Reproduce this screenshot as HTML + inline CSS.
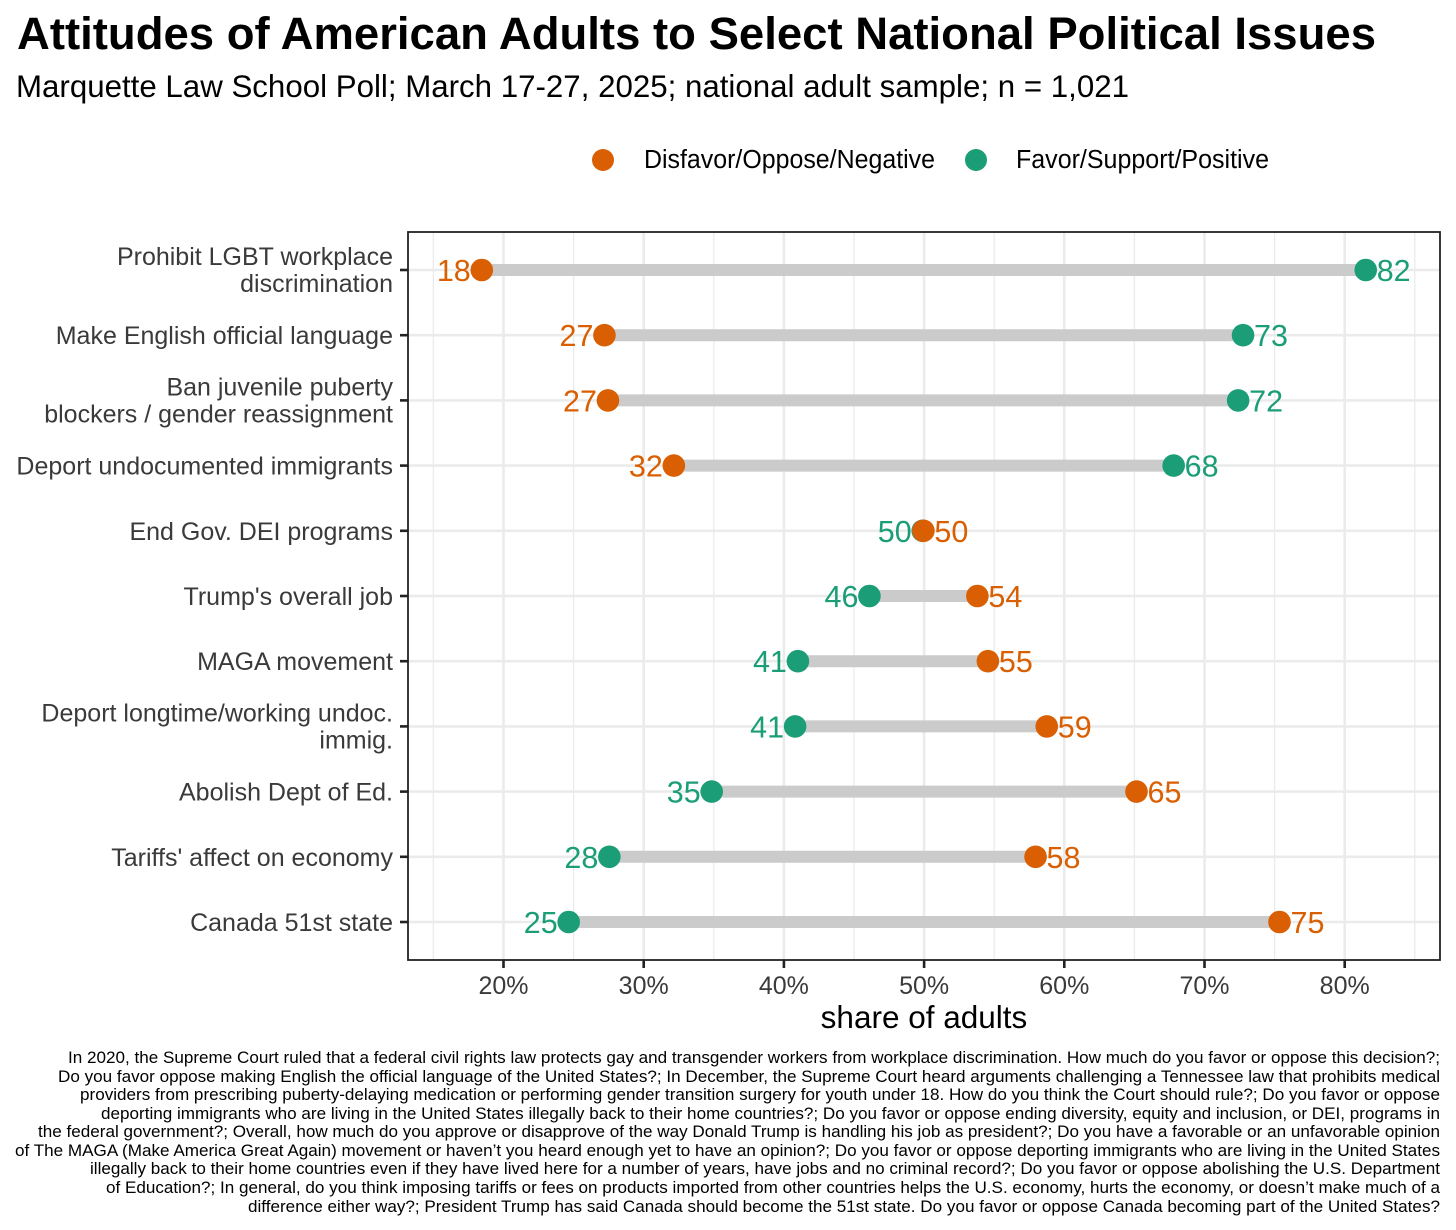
<!DOCTYPE html>
<html lang="en">
<head>
<meta charset="utf-8">
<title>Attitudes of American Adults to Select National Political Issues</title>
<style>
  html, body { margin: 0; padding: 0; background: #fff; }
  body { width: 1456px; height: 1230px; overflow: hidden; }
  svg { display: block; font-family: "Liberation Sans", Helvetica, Arial, sans-serif; }
</style>
</head>
<body>
<svg id="chart" xmlns="http://www.w3.org/2000/svg" width="1456" height="1230" viewBox="0 0 1456 1230">
  <rect x="0" y="0" width="1456" height="1230" fill="#ffffff"/>
  <text x="17" y="49" font-size="45" font-weight="700" fill="#000" textLength="1359" lengthAdjust="spacingAndGlyphs">Attitudes of American Adults to Select National Political Issues</text>
  <text x="16" y="97" font-size="31.5" fill="#000" textLength="1113" lengthAdjust="spacingAndGlyphs">Marquette Law School Poll; March 17-27, 2025; national adult sample; n = 1,021</text>

  <g>
    <circle cx="603" cy="160" r="11" fill="#D95F02"/>
    <text x="644" y="168" font-size="25.5" fill="#000" textLength="291" lengthAdjust="spacingAndGlyphs">Disfavor/Oppose/Negative</text>
    <circle cx="976" cy="160" r="11" fill="#1B9E77"/>
    <text x="1016" y="168" font-size="25.5" fill="#000" textLength="253" lengthAdjust="spacingAndGlyphs">Favor/Support/Positive</text>
  </g>

  <g id="grid"></g>
  <g id="segments"></g>
  <g id="points"></g>
  <g id="labels"></g>
  <rect x="408" y="232" width="1032" height="728" fill="none" stroke="#222222" stroke-width="1.8"/>
  <g id="y-axis"></g>
  <g id="x-axis"></g>
  <text x="924" y="1028" font-size="31.5" text-anchor="middle" fill="#000">share of adults</text>

  <g font-size="16.5" fill="#000" text-anchor="end">
    <text x="1440" y="1063" textLength="1372" lengthAdjust="spacingAndGlyphs">In 2020, the Supreme Court ruled that a federal civil rights law protects gay and transgender workers from workplace discrimination. How much do you favor or oppose this decision?;</text>
    <text x="1440" y="1082" textLength="1382" lengthAdjust="spacingAndGlyphs">Do you favor oppose making English the official language of the United States?; In December, the Supreme Court heard arguments challenging a Tennessee law that prohibits medical</text>
    <text x="1440" y="1100" textLength="1360" lengthAdjust="spacingAndGlyphs">providers from prescribing puberty-delaying medication or performing gender transition surgery for youth under 18. How do you think the Court should rule?; Do you favor or oppose</text>
    <text x="1440" y="1119" textLength="1339" lengthAdjust="spacingAndGlyphs">deporting immigrants who are living in the United States illegally back to their home countries?; Do you favor or oppose ending diversity, equity and inclusion, or DEI, programs in</text>
    <text x="1440" y="1137" textLength="1402" lengthAdjust="spacingAndGlyphs">the federal government?; Overall, how much do you approve or disapprove of the way Donald Trump is handling his job as president?; Do you have a favorable or an unfavorable opinion</text>
    <text x="1440" y="1156" textLength="1425" lengthAdjust="spacingAndGlyphs">of The MAGA (Make America Great Again) movement or haven’t you heard enough yet to have an opinion?; Do you favor or oppose deporting immigrants who are living in the United States</text>
    <text x="1440" y="1174" textLength="1350" lengthAdjust="spacingAndGlyphs">illegally back to their home countries even if they have lived here for a number of years, have jobs and no criminal record?; Do you favor or oppose abolishing the U.S. Department</text>
    <text x="1440" y="1193" textLength="1334" lengthAdjust="spacingAndGlyphs">of Education?; In general, do you think imposing tariffs or fees on products imported from other countries helps the U.S. economy, hurts the economy, or doesn’t make much of a</text>
    <text x="1440" y="1212" textLength="1192" lengthAdjust="spacingAndGlyphs">difference either way?; President Trump has said Canada should become the 51st state. Do you favor or oppose Canada becoming part of the United States?</text>
  </g>
</svg>
<script>
const categories = [
  ["Prohibit LGBT workplace", "discrimination"],
  ["Make English official language"],
  ["Ban juvenile puberty", "blockers / gender reassignment"],
  ["Deport undocumented immigrants"],
  ["End Gov. DEI programs"],
  ["Trump's overall job"],
  ["MAGA movement"],
  ["Deport longtime/working undoc.", "immig."],
  ["Abolish Dept of Ed."],
  ["Tariffs' affect on economy"],
  ["Canada 51st state"]
];
const disfavorValues = [18.45, 27.2, 27.45, 32.15, 49.95, 53.8, 54.55, 58.75, 65.15, 57.95, 75.35];
const favorValues = [81.5, 72.75, 72.4, 67.8, 49.9, 46.1, 41.0, 40.8, 34.85, 27.55, 24.65];
const majorTicks = [20, 30, 40, 50, 60, 70, 80];
const minorTicks = [15, 25, 35, 45, 55, 65, 75, 85];

const NS = "http://www.w3.org/2000/svg";
const DISFAVOR_COLOR = "#D95F02";
const FAVOR_COLOR = "#1B9E77";
const PANEL_LEFT = 408, PANEL_RIGHT = 1440, PANEL_TOP = 232, PANEL_BOTTOM = 960;

function xScale(pct) { return 503.5 + (pct - 20) * 14.02; }
function yScale(index) { return 270 + index * 65.2; }

function make(parent, tag, attrs) {
  const el = document.createElementNS(NS, tag);
  for (const key in attrs) el.setAttribute(key, attrs[key]);
  parent.appendChild(el);
  return el;
}

const grid = document.getElementById("grid");
const segments = document.getElementById("segments");
const points = document.getElementById("points");
const labels = document.getElementById("labels");
const yAxis = document.getElementById("y-axis");
const xAxis = document.getElementById("x-axis");

minorTicks.forEach(function (t) {
  const line = make(grid, "line", { x1: xScale(t), x2: xScale(t), y1: PANEL_TOP, y2: PANEL_BOTTOM, stroke: "#ebebeb", "stroke-width": 1.3 });
  
  
});
majorTicks.forEach(function (t) {
  const line = make(grid, "line", { x1: xScale(t), x2: xScale(t), y1: PANEL_TOP, y2: PANEL_BOTTOM, stroke: "#ebebeb", "stroke-width": 2.6 });
  
  

  const tick = make(xAxis, "line", { x1: xScale(t), x2: xScale(t), y1: PANEL_BOTTOM, y2: PANEL_BOTTOM + 8, stroke: "#222222", "stroke-width": 2.6 });
  
  

  const label = make(xAxis, "text", { x: xScale(t), y: 994, "font-size": 25, "text-anchor": "middle", fill: "#3a3a3a" });
  label.textContent = t + "%";
  
  
});

categories.forEach(function (lines, i) {
  const y = yScale(i);

  const rowLine = make(grid, "line", { x1: PANEL_LEFT, x2: PANEL_RIGHT, y1: y, y2: y, stroke: "#ebebeb", "stroke-width": 2.6 });
  
  

  const tick = make(yAxis, "line", { x1: PANEL_LEFT - 8, x2: PANEL_LEFT, y1: y, y2: y, stroke: "#222222", "stroke-width": 2.6 });
  
  

  lines.forEach(function (text, j) {
    const baseline = lines.length === 1 ? y + 9 : y - 5 + j * 27;
    const label = make(yAxis, "text", { x: 393, y: baseline, "font-size": 25, "text-anchor": "end", fill: "#3a3a3a" });
    label.textContent = text;
    
    
  });

  const d = disfavorValues[i];
  const f = favorValues[i];

  const seg = make(segments, "line", { x1: xScale(d), x2: xScale(f), y1: y, y2: y, stroke: "#cbcbcb", "stroke-width": 12 });
  
  

  const favorDot = make(points, "circle", { cx: xScale(f), cy: y, r: 11.3, fill: FAVOR_COLOR });
  
  

  const disfavorDot = make(points, "circle", { cx: xScale(d), cy: y, r: 11.3, fill: DISFAVOR_COLOR });
  
  

  const disfavorLeft = d <= f;
  const disfavorLabel = make(labels, "text", {
    x: xScale(d) + (disfavorLeft ? -11 : 11), y: y + 11, "font-size": 30.5,
    "text-anchor": disfavorLeft ? "end" : "start", fill: DISFAVOR_COLOR
  });
  disfavorLabel.textContent = Math.round(d);
  
  

  const favorLabel = make(labels, "text", {
    x: xScale(f) + (disfavorLeft ? 11 : -11), y: y + 11, "font-size": 30.5,
    "text-anchor": disfavorLeft ? "start" : "end", fill: FAVOR_COLOR
  });
  favorLabel.textContent = Math.round(f);
  
  
});
</script>
</body>
</html>
